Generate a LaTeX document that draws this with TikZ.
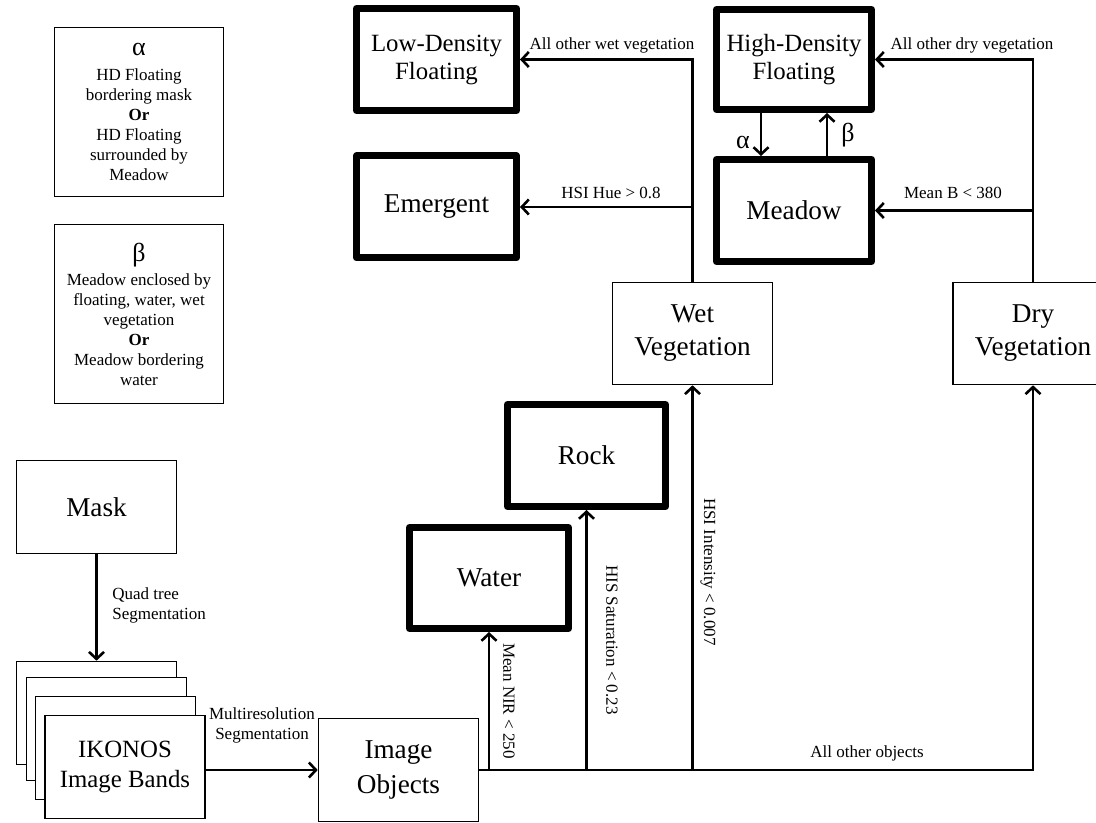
\documentclass[tikz,border=0pt]{standalone}
\usepackage{fontspec}
\setmainfont{Liberation Serif}
\usetikzlibrary{arrows.meta,calc}
\begin{document}
\begin{tikzpicture}[x=0.5pt,y=-0.5pt,
  thinbox/.style={draw, line width=0.8pt, inner sep=0pt, align=center, fill=white},
  thickbox/.style={draw, line width=3.5pt, line join=round, inner sep=0pt, align=center},
  big/.style={font=\fontsize{13.6}{16.5}\selectfont},
  mid/.style={font=\fontsize{12.4}{14}\selectfont},
  conn/.style={line width=1.3pt, -{Straight Barb[length=3.5pt,width=7.5pt,line width=1.3pt]}},
  lbl/.style={font=\fontsize{8.5}{10}\selectfont, inner sep=0pt, align=center},
  greek/.style={font=\fontsize{13}{13}\selectfont, inner sep=0pt}
]
\useasboundingbox (0,0) rectangle (1096,823);

% legend boxes
\node[thinbox, lbl, minimum width=84.5pt, minimum height=84.5pt] (alpha) at (139,112)
  {{\fontsize{13}{13}\selectfont α}\\[2.5pt] HD Floating\\ bordering mask\\ \textbf{Or}\\ HD Floating\\ surrounded by\\ Meadow};
\node[thinbox, lbl, minimum width=84.5pt, minimum height=89.5pt] (beta) at (139,314)
  {{\fontsize{13}{13}\selectfont β}\\[2pt] Meadow enclosed by\\ floating, water, wet\\ vegetation\\ \textbf{Or}\\ Meadow bordering\\ water};

% left part
\node[thinbox, big, minimum width=80pt, minimum height=46.5pt] (mask) at (96.5,507) {Mask};
\node[thinbox, minimum width=80pt, minimum height=51.5pt] (band1) at (96.5,713) {};
\node[thinbox, minimum width=80pt, minimum height=51.5pt] (band2) at (106.5,729) {};
\node[thinbox, minimum width=80pt, minimum height=51.5pt] (band3) at (115.5,748) {};
\node[thinbox, minimum width=80pt, minimum height=51.5pt, font=\fontsize{12.4}{15}\selectfont] (bands) at (125,767) {IKONOS\\ Image Bands};
\node[thinbox, minimum width=80pt, minimum height=51.5pt, font=\fontsize{13.6}{17.5}\selectfont] (obj) at (398.5,770) {Image\\ Objects};

% class boxes
\node[thickbox, big, minimum width=79.5pt, minimum height=50.5pt] (water) at (489,578) {Water};
\node[thickbox, big, minimum width=79pt, minimum height=51pt] (rock) at (586.5,455.5) {Rock};
\node[thinbox, big, minimum width=80pt, minimum height=51pt] (wet) at (692.5,333.5) {Wet\\ Vegetation};
\node[thinbox, big, minimum width=80pt, minimum height=51pt] (dry) at (1033,333.5) {Dry\\ Vegetation};
\node[thickbox, mid, minimum width=80pt, minimum height=51pt] (ld) at (436.5,59.5) {Low-Density\\ Floating};
\node[thickbox, big, minimum width=80pt, minimum height=51pt] (em) at (436.5,207) {Emergent};
\node[thickbox, mid, minimum width=77.5pt, minimum height=50pt] (hd) at (794,59.5) {High-Density\\ Floating};
\node[thickbox, big, minimum width=77.5pt, minimum height=51pt] (meadow) at (794,210.5) {Meadow};

% connectors
\draw[conn] (mask.south) -- (band1.north);
\draw[conn] (bands.east |- obj.west) -- (obj.west);
\draw[conn] (obj.east) -- (dry.south |- obj.east) -- (dry.south);
\draw[conn] (water.south |- obj.east) -- (water.south);
\draw[conn] (rock.south |- obj.east) -- (rock.south);
\draw[conn] (wet.south |- obj.east) -- (wet.south);
\draw[conn] (wet.north) |- (ld.east);
\draw[conn] (wet.north |- em.east) -- (em.east);
\draw[conn] (dry.north) |- (hd.east);
\draw[conn] (dry.north |- meadow.east) -- (meadow.east);
\coordinate (a1) at ($(hd.south)+(-33,0)$);
\coordinate (a2) at ($(meadow.north)+(-33,0)$);
\coordinate (b1) at ($(meadow.north)+(33,0)$);
\coordinate (b2) at ($(hd.south)+(33,0)$);
\draw[conn] (a1) -- (a2);
\draw[conn] (b1) -- (b2);

% labels
\node[greek] (alab) at (743,142) {α};
\node[greek] (blab) at (848,135) {β};
\node[lbl, anchor=west, align=left] (quad) at (112,605) {Quad tree\\ Segmentation};
\node[lbl] (multi) at (262,725) {Multiresolution\\ Segmentation};
\node[lbl] (l1) at (612,45) {All other wet vegetation};
\node[lbl] (l2) at (972,45) {All other dry vegetation};
\node[lbl] (l3) at (611,193) {HSI Hue > 0.8};
\node[lbl] (l4) at (953,193) {Mean B < 380};
\node[lbl] (l5) at (867,753) {All other objects};
\node[lbl, rotate=-90] (l6) at (509,701) {Mean NIR < 250};
\node[lbl, rotate=-90] (l7) at (612,640) {HIS Saturation < 0.23};
\node[lbl, rotate=-90] (l8) at (708,572) {HSI Intensity < 0.007};
\end{tikzpicture}
\end{document}
